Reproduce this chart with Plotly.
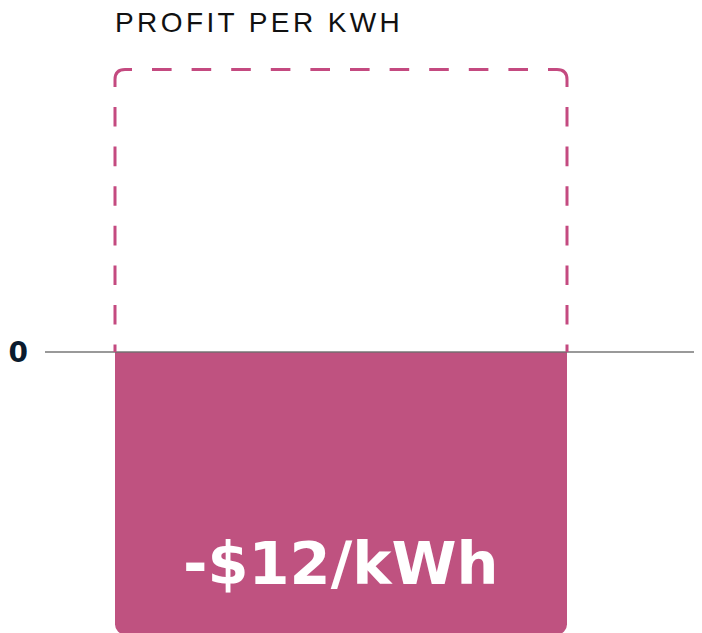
import plotly.graph_objects as go

# ---- data ----
categories = ["Profit per kWh"]
values = [-12]
target_values = [12]
bar_labels = ["-$12/kWh"]
tick_vals = [0]
tick_text = ["0"]
title_text = "PROFIT PER KWH"

# ---- layout constants (pixels) ----
OFF = 8                 # default page body margin
W, H = 702 - OFF, 633 - OFF
ML = 45 - OFF
BAR_PX = 452.0          # pixels per x unit (bar width = 1 unit)
Y_PX = 23.54            # pixels per y unit
ZERO_PX = 352.0 - OFF   # pixel row of zero inside the figure
LEFT_PAD = 70.0         # pixels between plot left and bar left
LABEL_UP = 70.5         # label centre above bar end, px

BAR_COLOR = "#BF5280"
DASH_COLOR = "#C44A80"
ZERO_COLOR = "rgba(110,110,110,0.7)"

xs = list(range(len(categories)))
x0 = -0.5 - LEFT_PAD / BAR_PX
x_range = [x0, x0 + (W - ML) / BAR_PX]
y_range = [-(H - ZERO_PX) / Y_PX, ZERO_PX / Y_PX]

fig = go.Figure()
fig.add_trace(go.Bar(
    x=xs, y=values, width=1.0,
    marker=dict(color=BAR_COLOR, cornerradius=10, line=dict(width=0)),
    hoverinfo="skip", showlegend=False,
))

shapes = []
# zero line across the full width
shapes.append(dict(type="line", xref="paper", yref="y", x0=0, x1=1.05, y0=0, y1=0,
                   line=dict(color=ZERO_COLOR, width=2), layer="above"))

# dashed outline for the target values
rx, ry = 10 / BAR_PX, 10 / Y_PX
cx, cy = 17 / BAR_PX, 17.5 / Y_PX
dash_pat = "0px,20px,19.6px,0px"
line_solid = dict(color=DASH_COLOR, width=3)
line_dash = dict(color=DASH_COLOR, width=3, dash=dash_pat)
for xc, t in zip(xs, target_values):
    L, R, T = xc - 0.5, xc + 0.5, t
    shapes.append(dict(type="path", xref="x", yref="y", line=line_solid, layer="above",
                       path=f"M {L},{T-cy} L {L},{T-ry} Q {L},{T} {L+rx},{T} L {L+cx},{T}"))
    shapes.append(dict(type="path", xref="x", yref="y", line=line_solid, layer="above",
                       path=f"M {R},{T-cy} L {R},{T-ry} Q {R},{T} {R-rx},{T} L {R-cx},{T}"))
    shapes.append(dict(type="path", xref="x", yref="y", line=line_dash, layer="above",
                       path=f"M {L+cx},{T} L {R-cx},{T}"))
    shapes.append(dict(type="path", xref="x", yref="y", line=line_dash, layer="above",
                       path=f"M {L},{T-cy} L {L},0"))
    shapes.append(dict(type="path", xref="x", yref="y", line=line_dash, layer="above",
                       path=f"M {R},{T-cy} L {R},0"))

annotations = []
for xc, v, lab in zip(xs, values, bar_labels):
    annotations.append(dict(
        x=xc, y=v + LABEL_UP / Y_PX, xref="x", yref="y", text=lab, showarrow=False,
        yanchor="middle", xanchor="center",
        font=dict(family="DejaVu Sans", size=59, color="white", weight="bold"),
    ))

fig.update_layout(
    width=W, height=H,
    margin=dict(l=ML, r=0, t=0, b=0, pad=0),
    paper_bgcolor="white", plot_bgcolor="white",
    title=dict(
        text=f'<span style="letter-spacing:3.4px">{title_text}</span>',
        x=(115 - OFF) / W, xanchor="left", xref="container",
        y=1 - (22 - OFF) / H, yanchor="middle", yref="container",
        pad=dict(t=0, b=0, l=0, r=0),
        font=dict(family="Liberation Sans, Arial", size=28, color="#111111"),
    ),
    xaxis=dict(range=x_range, visible=False, fixedrange=True),
    yaxis=dict(
        range=y_range, showgrid=False, showline=False, zeroline=False,
        tickvals=tick_vals, ticktext=tick_text, ticks="",
        tickfont=dict(family="DejaVu Sans", size=28, color="#0B1B2E", weight="bold"),
        ticklabelstandoff=16, fixedrange=True,
    ),
    shapes=shapes,
    annotations=annotations,
    showlegend=False,
)

fig.write_html("out.html")
